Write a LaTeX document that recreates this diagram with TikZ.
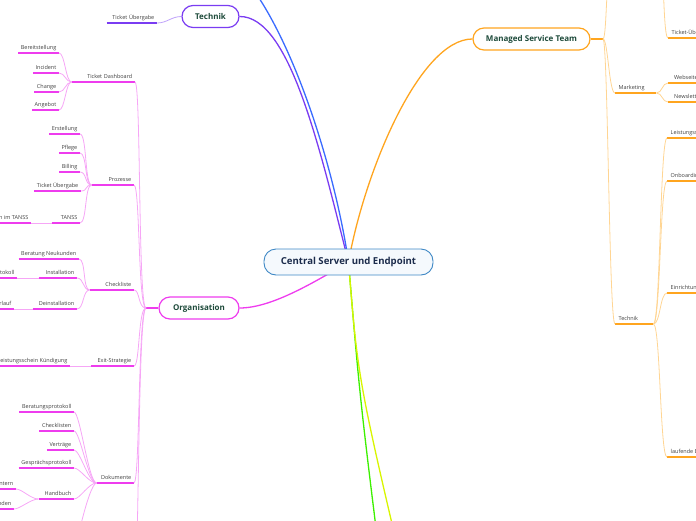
\documentclass[tikz,border=0pt]{standalone}
\usepackage{fontspec}
\setmainfont{Open Sans}
\usetikzlibrary{positioning}

\definecolor{rootblue}{HTML}{3F88C5}
\definecolor{rootfill}{HTML}{F5F9FD}
\definecolor{rootnavy}{HTML}{1B2B4B}
\definecolor{maingreen}{HTML}{1D4A3A}
\definecolor{orgmag}{HTML}{EE3CEE}
\definecolor{orglight}{HTML}{F6A6F6}
\definecolor{mstorange}{HTML}{FFA51F}
\definecolor{mstlight}{HTML}{FFD593}
\definecolor{techpurple}{HTML}{7A3CF2}
\definecolor{techlight}{HTML}{BFA2FA}
\definecolor{lineblue}{HTML}{3A6BFF}
\definecolor{linegreen}{HTML}{3CF000}
\definecolor{lineyellow}{HTML}{D8F500}

\begin{document}
\begin{tikzpicture}[
    x=1pt, y=-1pt,
    root/.style={rectangle, rounded corners=12pt, draw=rootblue, line width=0.9pt, fill=rootfill, minimum width=169pt, minimum height=26pt, font=\fontsize{9.6}{10}\selectfont\bfseries, text=rootnavy},
    main/.style={rectangle, rounded corners=11pt, draw=#1, line width=1.2pt, fill=white, minimum height=22pt, font=\fontsize{8}{9}\selectfont\bfseries, text=maingreen},
    leaf/.style={inner xsep=2.5pt, inner ysep=2pt, text height=4pt, text depth=1pt, font=\fontsize{5.5}{6}\selectfont, text=black!75,
        append after command={(\tikzlastnode.south west) edge[draw=#1, line width=1.8pt] (\tikzlastnode.south east)}},
    lleaf/.style={leaf=#1, anchor=south east},
    rleaf/.style={leaf=#1, anchor=south west, inner xsep=3.5pt},
    link/.style={draw=#1, line width=0.8pt},
    branch/.style={draw=#1, line width=1.3pt}
]
\useasboundingbox (0,0) rectangle (696,520);
\clip (0,0) rectangle (696,520);

% Hub and main topics
\coordinate (hub) at (348.5,262);
\node[main=techpurple, minimum width=57pt] (tech) at (210.5,16.5) {Technik};
\node[main=orgmag, minimum width=80pt] (org) at (199,308) {Organisation};
\node[main=mstorange, minimum width=117pt] (mst) at (531.5,39) {Managed Service Team};
\coordinate (blueEnd) at (250,-15);
\coordinate (greenEnd) at (385,600);
\coordinate (yellowEnd) at (410,600);

% Technik
\node[lleaf=techpurple, text width=45pt, align=right] (tue) at (157,23) {Ticket Übergabe};

% Organisation
\coordinate (orgJ) at (146,308);
\coordinate (orgMore) at (135,580);
\node[lleaf=orgmag, text width=58pt, align=right] (dash) at (135,82) {Ticket Dashboard};
\node[lleaf=orgmag, text width=37pt, align=right] (proz) at (134,185) {Prozesse};
\node[lleaf=orgmag, text width=39pt, align=right] (check) at (134,290) {Checkliste};
\node[lleaf=orgmag, text width=38pt, align=right] (exit) at (134,366) {Exit-Strategie};
\node[lleaf=orgmag, text width=32pt, align=right] (doku) at (134,483) {Dokumente};

% Ticket Dashboard
\node[lleaf=orgmag] (bere) at (59,53) {Bereitstellung};
\node[lleaf=orgmag] (inci) at (59,73) {Incident};
\node[lleaf=orgmag] (chan) at (59,92) {Change};
\node[lleaf=orgmag] (ange) at (59,110) {Angebot};

% Prozesse
\node[lleaf=orgmag] (erst) at (80,134) {Erstellung};
\node[lleaf=orgmag] (pfle) at (80,153) {Pflege};
\node[lleaf=orgmag] (bill) at (80,172) {Billing};
\node[lleaf=orgmag] (ptue) at (81,191) {Ticket Übergabe};
\node[lleaf=orgmag, text width=23pt, align=right] (tanss) at (80,223) {TANSS};
\node[lleaf=orgmag] (tanssa) at (31,223) {an im TANSS};

% Checkliste
\node[lleaf=orgmag] (bera) at (79,259) {Beratung Neukunden};
\node[lleaf=orgmag, text width=33pt, align=right] (inst) at (77,278) {Installation};
\node[lleaf=orgmag] (instp) at (17,278) {otokoll};
\node[lleaf=orgmag, text width=39pt, align=right] (dein) at (77,309) {Deinstallation};
\node[lleaf=orgmag] (deinv) at (14,309) {erlauf};

% Exit-Strategie
\node[lleaf=orgmag] (kuend) at (70,366) {eistungsschein Kündigung};

% Dokumente
\node[lleaf=orgmag] (bprot) at (74,412) {Beratungsprotokoll};
\node[lleaf=orgmag] (chkl) at (74,431) {Checklisten};
\node[lleaf=orgmag] (vert) at (74,450) {Verträge};
\node[lleaf=orgmag] (gprot) at (74,468) {Gesprächsprotokoll};
\node[lleaf=orgmag, text width=30pt, align=right] (hand) at (74,499) {Handbuch};
\node[lleaf=orgmag] (hint) at (16,489) {intern};
\node[lleaf=orgmag] (hkund) at (14,509) {nden};
\coordinate (dokuMore) at (70,580);

% Managed Service Team
\coordinate (mstJ) at (603,39);
\coordinate (mstUp) at (612,-40);
\coordinate (mstUp2) at (658,-80);
\node[rleaf=mstorange] (rtue) at (668,38) {Ticket-Übergabe};
\node[rleaf=mstorange, text width=34pt, align=left] (mark) at (615,93) {Marketing};
\node[rleaf=mstorange, inner xsep=6pt] (web) at (668,83) {Webseite};
\node[rleaf=mstorange, inner xsep=6pt] (news) at (668,102) {Newsletter};
\node[rleaf=mstorange, text width=31pt, align=left] (rtech) at (615,324) {Technik};
\node[rleaf=mstorange] (leis) at (667,138) {Leistungsschein};
\node[rleaf=mstorange] (onbo) at (667,181) {Onboarding};
\node[rleaf=mstorange] (einr) at (667,293) {Einrichtung};
\node[rleaf=mstorange] (lauf) at (667,457) {laufende Betreuung};

% Main branches
\draw[branch=lineblue] (hub) .. controls (335,170) and (295,45) .. (blueEnd);
\draw[branch=techpurple] (hub) .. controls (320,150) and (290,16) .. (tech.east);
\draw[branch=mstorange] (hub) .. controls (365,170) and (420,39) .. (mst.west);
\draw[branch=orgmag] (hub) .. controls (310,285) and (270,308) .. (org.east);
\draw[branch=linegreen] (hub) .. controls (360,400) .. (greenEnd);
\draw[branch=lineyellow] (hub) .. controls (358,380) .. (yellowEnd);

% Technik links
\draw[link=techlight] (tue.south east) .. controls +(10,0) and +(-10,0) .. (tech.west);

% Organisation links
\draw[branch=orgmag, line width=2pt] (org.west) -- (orgJ);
\draw[link=orglight] (orgJ) .. controls +(-8,0) and +(6,0) .. (dash.south east);
\draw[link=orglight] (orgJ) .. controls +(-8,0) and +(6,0) .. (proz.south east);
\draw[link=orglight] (orgJ) .. controls +(-8,0) and +(6,0) .. (check.south east);
\draw[link=orglight] (orgJ) .. controls +(-8,0) and +(6,0) .. (exit.south east);
\draw[link=orglight] (orgJ) .. controls +(-8,0) and +(6,0) .. (doku.south east);
\draw[link=orglight] (orgJ) .. controls +(-8,0) and +(4,-20) .. (orgMore);

\draw[link=orglight] (dash.south west) .. controls +(-6,0) and +(6,0) .. (bere.south east);
\draw[link=orglight] (dash.south west) .. controls +(-6,0) and +(6,0) .. (inci.south east);
\draw[link=orglight] (dash.south west) .. controls +(-6,0) and +(6,0) .. (chan.south east);
\draw[link=orglight] (dash.south west) .. controls +(-6,0) and +(6,0) .. (ange.south east);

\draw[link=orglight] (proz.south west) .. controls +(-7,0) and +(7,0) .. (erst.south east);
\draw[link=orglight] (proz.south west) .. controls +(-7,0) and +(7,0) .. (pfle.south east);
\draw[link=orglight] (proz.south west) .. controls +(-7,0) and +(7,0) .. (bill.south east);
\draw[link=orglight] (proz.south west) .. controls +(-7,0) and +(7,0) .. (ptue.south east);
\draw[link=orglight] (proz.south west) .. controls +(-7,0) and +(7,0) .. (tanss.south east);
\draw[link=orglight] (tanss.south west) -- (tanssa.south east);

\draw[link=orglight] (check.south west) .. controls +(-7,0) and +(7,0) .. (bera.south east);
\draw[link=orglight] (check.south west) .. controls +(-7,0) and +(7,0) .. (inst.south east);
\draw[link=orglight] (check.south west) .. controls +(-7,0) and +(7,0) .. (dein.south east);
\draw[link=orglight] (inst.south west) -- (instp.south east);
\draw[link=orglight] (dein.south west) -- (deinv.south east);

\draw[link=orglight] (exit.south west) -- (kuend.south east);

\draw[link=orglight] (doku.south west) .. controls +(-8,0) and +(6,0) .. (bprot.south east);
\draw[link=orglight] (doku.south west) .. controls +(-8,0) and +(6,0) .. (chkl.south east);
\draw[link=orglight] (doku.south west) .. controls +(-8,0) and +(6,0) .. (vert.south east);
\draw[link=orglight] (doku.south west) .. controls +(-8,0) and +(6,0) .. (gprot.south east);
\draw[link=orglight] (doku.south west) .. controls +(-8,0) and +(6,0) .. (hand.south east);
\draw[link=orglight] (doku.south west) .. controls +(-8,0) and +(2,-20) .. (dokuMore);
\draw[link=orglight] (hand.south west) .. controls +(-8,0) and +(6,0) .. (hint.south east);
\draw[link=orglight] (hand.south west) .. controls +(-8,0) and +(6,0) .. (hkund.south east);

% Managed Service Team links
\draw[branch=mstorange, line width=2pt] (mst.east) -- (mstJ);
\draw[link=mstlight] (mstJ) .. controls +(4,0) and +(-6,0) .. (mstUp);
\draw[link=mstlight] (mstUp2) .. controls +(6,0) and +(-6,0) .. (rtue.south west);
\draw[link=mstlight] (mstJ) .. controls +(5,0) and +(-6,0) .. (mark.south west);
\draw[link=mstlight] (mstJ) .. controls +(5,0) and +(-6,0) .. (rtech.south west);
\draw[link=mstlight] (mark.south east) .. controls +(6,0) and +(-6,0) .. (web.south west);
\draw[link=mstlight] (mark.south east) .. controls +(6,0) and +(-6,0) .. (news.south west);
\draw[link=mstlight] (rtech.south east) .. controls +(7,0) and +(-7,0) .. (leis.south west);
\draw[link=mstlight] (rtech.south east) .. controls +(7,0) and +(-7,0) .. (onbo.south west);
\draw[link=mstlight] (rtech.south east) .. controls +(7,0) and +(-7,0) .. (einr.south west);
\draw[link=mstlight] (rtech.south east) .. controls +(7,0) and +(-7,0) .. (lauf.south west);

% Central topic
\node[root] (root) at (hub) {Central Server und Endpoint};

\end{tikzpicture}
\end{document}
